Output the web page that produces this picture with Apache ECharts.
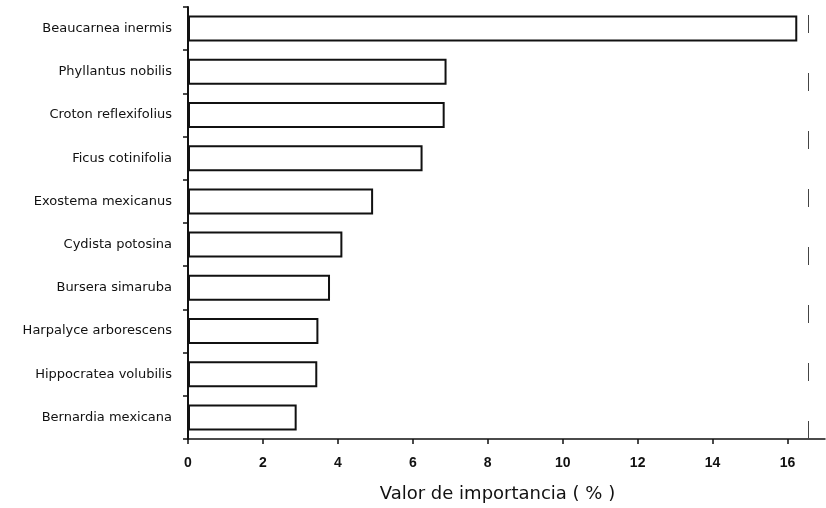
<!DOCTYPE html>
<html lang="es">
<head>
    <meta charset="UTF-8">
    <title>Valor de importancia</title>
    <script src="https://cdn.jsdelivr.net/npm/echarts@6/dist/echarts.min.js"></script>
</head>
<body style="margin:0;background:#fff;">
    <div id="chart" style="width:826px;height:508px;"></div>
<script>
    // especies, de abajo hacia arriba (eje de categorias)
    var especies = [
        'Bernardia mexicana',
        'Hippocratea volubilis',
        'Harpalyce arborescens',
        'Bursera simaruba',
        'Cydista potosina',
        'Exostema mexicanus',
        'Ficus cotinifolia',
        'Croton reflexifolius',
        'Phyllantus nobilis',
        'Beaucarnea inermis'
    ];
    var valores = [2.9, 3.45, 3.48, 3.79, 4.12, 4.94, 6.26, 6.85, 6.9, 16.26];
    var ejeX = { min: 0, max: 17, paso: 2 };
    var titulo = 'Valor de importancia ( % )';

    var chart = echarts.init(document.getElementById('chart'));
    var fuente = 'Liberation Sans, Arial, sans-serif';
    var fuenteAncha = 'DejaVu Sans, sans-serif';

    chart.setOption({
        animation: false,
        grid: { left: 188, right: 1, top: 7, bottom: 61 },
        xAxis: {
            type: 'value',
            min: ejeX.min,
            max: ejeX.max,
            interval: ejeX.paso,
            splitLine: { show: false },
            axisLine: { show: true, lineStyle: { color: '#111', width: 1.5 } },
            axisTick: { show: true, length: 5, lineStyle: { color: '#111', width: 1.5 } },
            axisLabel: {
                margin: 17,
                showMaxLabel: false,
                color: '#111',
                fontFamily: fuente,
                fontSize: 14,
                fontWeight: 'bold'
            },
            name: titulo,
            nameLocation: 'middle',
            nameGap: 46,
            nameTextStyle: {
                color: '#111',
                fontFamily: fuenteAncha,
                fontSize: 18,
                padding: [0, 18, 0, 0]
            }
        },
        yAxis: {
            type: 'category',
            data: especies,
            axisLine: { show: true, lineStyle: { color: '#111', width: 2 } },
            axisTick: { show: true, length: 5, lineStyle: { color: '#111', width: 1.5 } },
            axisLabel: {
                margin: 16,
                color: '#111',
                fontFamily: fuenteAncha,
                fontSize: 13
            }
        },
        series: [{
            type: 'bar',
            data: valores,
            barWidth: 26,
            itemStyle: { color: '#fff', borderColor: '#111', borderWidth: 2 },
            markLine: {
                silent: true,
                symbol: 'none',
                label: { show: false },
                lineStyle: { color: '#444', width: 1, type: [18, 40] },
                data: [{ xAxis: 16.55 }]
            }
        }]
    });
</script>
</body>
</html>
